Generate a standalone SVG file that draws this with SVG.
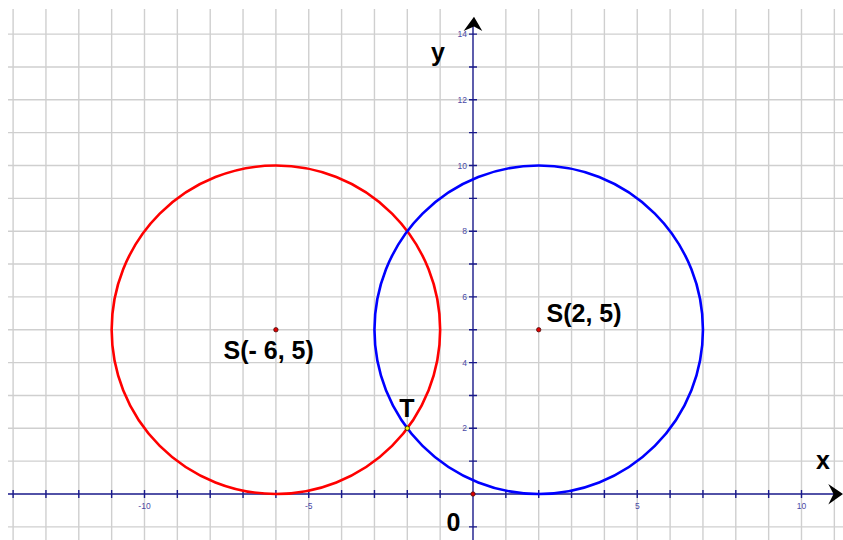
<svg xmlns="http://www.w3.org/2000/svg" width="843" height="540" viewBox="0 0 843 540">
<style>
.grid{stroke:#cfcfcf;stroke-width:1.4;fill:none}
.axis{stroke:#1a1a8a;stroke-width:1.4;fill:none}
.tick{font-family:"Liberation Sans",Arial,sans-serif;font-size:8.5px;fill:#4a4aa6}
.xt{text-anchor:middle}
.yt{text-anchor:end}
.lbl{font-family:"Liberation Sans",Arial,sans-serif;font-size:25px;font-weight:bold;fill:#000}
.circ{fill:none;stroke-width:2.6}
.pt{stroke:#4a1010;stroke-width:0.8}
</style>
<rect width="843" height="540" fill="#ffffff"/>
<g id="grid">
<path class="grid" d="M13.1,9V540M45.95,9V540M78.8,9V540M111.65,9V540M144.5,9V540M177.35,9V540M210.2,9V540M243.05,9V540M275.9,9V540M308.75,9V540M341.6,9V540M374.45,9V540M407.3,9V540M440.15,9V540M505.85,9V540M538.7,9V540M571.55,9V540M604.4,9V540M637.25,9V540M670.1,9V540M702.95,9V540M735.8,9V540M768.65,9V540M801.5,9V540M834.35,9V540"/>
<path class="grid" d="M8,34.1H843M8,66.95H843M8,99.8H843M8,132.65H843M8,165.5H843M8,198.35H843M8,231.2H843M8,264.05H843M8,296.9H843M8,329.75H843M8,362.6H843M8,395.45H843M8,428.3H843M8,461.15H843M8,526.85H843"/>
</g>
<g id="axes">
<path class="axis" d="M8,494H836M473,540V20"/>
<path class="axis" d="M13.1,490V498M45.95,490V498M78.8,490V498M111.65,490V498M144.5,490V498M177.35,490V498M210.2,490V498M243.05,490V498M275.9,490V498M308.75,490V498M341.6,490V498M374.45,490V498M407.3,490V498M440.15,490V498M505.85,490V498M538.7,490V498M571.55,490V498M604.4,490V498M637.25,490V498M670.1,490V498M702.95,490V498M735.8,490V498M768.65,490V498M801.5,490V498M834.35,490V498"/>
<path class="axis" d="M469,34.1H477M469,66.95H477M469,99.8H477M469,132.65H477M469,165.5H477M469,198.35H477M469,231.2H477M469,264.05H477M469,296.9H477M469,329.75H477M469,362.6H477M469,395.45H477M469,428.3H477M469,461.15H477M469,526.85H477"/>
<path d="M474,16.7L482.3,31L474,26.5L463.6,31Z" fill="#000"/>
<path d="M843,494L828.3,484L833.5,494L828.3,504.5Z" fill="#000"/>
<text class="tick xt" x="144.5" y="509">-10</text>
<text class="tick xt" x="308.75" y="509">-5</text>
<text class="tick xt" x="637.25" y="509">5</text>
<text class="tick xt" x="801.5" y="509">10</text>
<text class="tick yt" x="467" y="431.3">2</text>
<text class="tick yt" x="467" y="365.6">4</text>
<text class="tick yt" x="467" y="299.9">6</text>
<text class="tick yt" x="467" y="234.2">8</text>
<text class="tick yt" x="467" y="168.5">10</text>
<text class="tick yt" x="467" y="102.8">12</text>
<text class="tick yt" x="467" y="37.1">14</text>
<text class="lbl" x="816" y="469">x</text>
<text class="lbl" x="431" y="61">y</text>
<text class="lbl" x="446.5" y="531">0</text>
</g>
<g id="circle-red">
<circle class="circ" cx="275.9" cy="329.75" r="164.25" stroke="#ff0000"/>
</g>
<g id="circle-blue">
<circle class="circ" cx="538.7" cy="329.75" r="164.25" stroke="#0000ff"/>
</g>
<g id="point-S1">
<circle class="pt" cx="275.9" cy="329.75" r="2.2" fill="#e00000"/>
<text class="lbl" x="223.5" y="359">S(- 6, 5)</text>
</g>
<g id="point-S2">
<circle class="pt" cx="538.7" cy="329.75" r="2.2" fill="#e00000"/>
<text class="lbl" x="546.5" y="321.5">S(2, 5)</text>
</g>
<g id="point-O">
<circle class="pt" cx="473" cy="494" r="2.2" fill="#e00000"/>
</g>
<g id="point-T">
<circle cx="407.3" cy="428.3" r="2.2" fill="#f0f000" stroke="#333300" stroke-width="0.9"/>
<text class="lbl" x="399.3" y="417.3">T</text>
</g>
<g id="connectors"></g>
</svg>
